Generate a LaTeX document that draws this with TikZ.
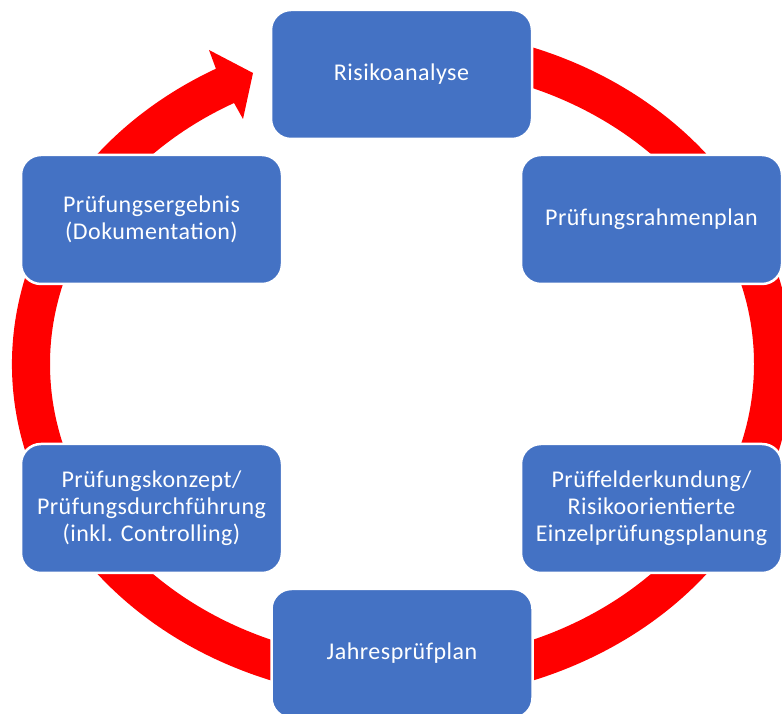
\documentclass[tikz,border=0pt]{standalone}
\usepackage{fontspec}
\setmainfont{Carlito}[LetterSpace=2]
\definecolor{boxblue}{HTML}{4472C4}
\definecolor{ringred}{HTML}{FF0000}
\begin{document}
\begin{tikzpicture}[x=1pt,y=1pt,
  stepbox/.style={draw=white, line width=2.5pt, fill=boxblue, rounded corners=20pt,
    minimum width=261pt, minimum height=129pt, text=white, align=center,
    font=\fontsize{24}{27}\selectfont, inner sep=0pt}]
\useasboundingbox (0,0) rectangle (782,714);
\begin{scope}
\clip (0,0) rectangle (782,714);
% ring with arrow head
\fill[ringred] (402,350) ++(118.5:390 and 336)
  arc[start angle=118.5, end angle=450, x radius=390, y radius=336]
  -- ++(0,-39)
  arc[start angle=450, end angle=118.5, x radius=352, y radius=297]
  -- (243,595) -- (253,641) -- (209,664) -- cycle;
% boxes
\node[stepbox] (risk) at (401.5,639.5) {Risikoanalyse};
\node[stepbox] (rahmen) at (651.5,494.5) {Prüfungsrahmenplan};
\node[stepbox] (feld) at (651.5,205.5) {Prüffelderkundung/\\Risikoorientierte\\Einzelprüfungsplanung};
\node[stepbox] (jahr) at (402,60.5) {Jahresprüfplan};
\node[stepbox] (konzept) at (151.5,205.5) {Prüfungskonzept/\\Prüfungsdurchführung\\(inkl. Controlling)};
\node[stepbox] (ergebnis) at (151.5,494.5) {Prüfungsergebnis\\(Dokumentation)};
\end{scope}
\end{tikzpicture}
\end{document}
